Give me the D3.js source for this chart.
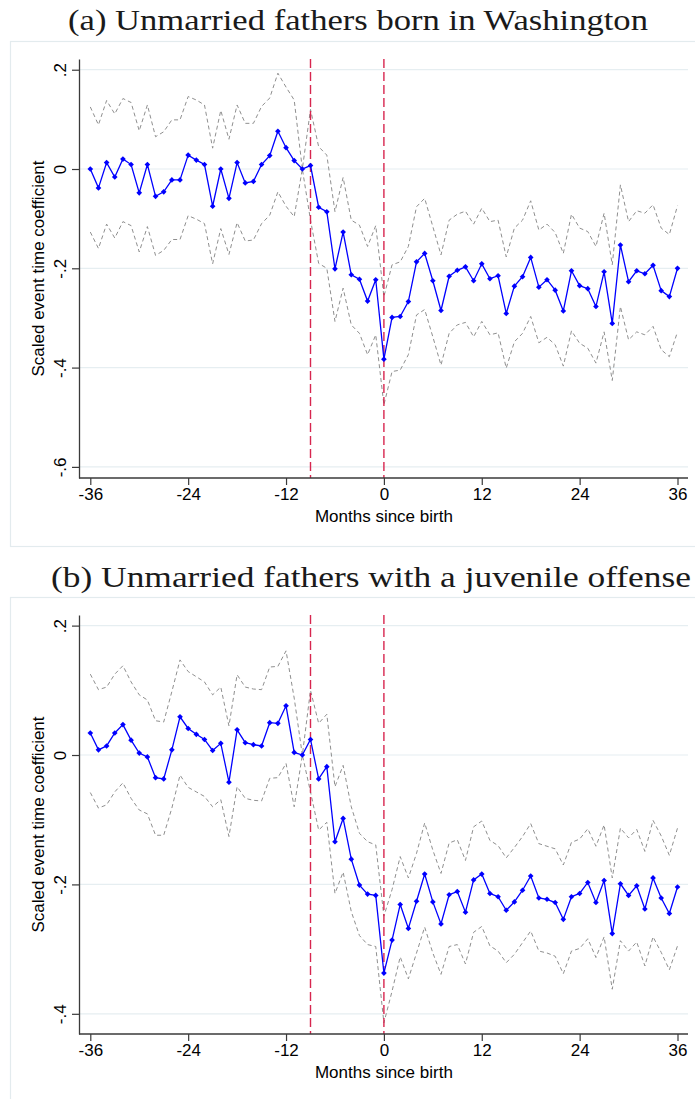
<!DOCTYPE html>
<html>
<head>
<meta charset="utf-8">
<script src="https://cdn.jsdelivr.net/npm/d3@7"></script>
<style>
  html, body { margin: 0; padding: 0; background: #fff; }
  svg { display: block; }
  .tick text { fill: #000; }
</style>
</head>
<body>
<svg id="chart" width="695" height="1099"></svg>
<script>
// Event time in months relative to the birth
const months = d3.range(-36, 37);
const xTicks = [-36, -24, -12, 0, 12, 24, 36];
const xTickLabels = ["-36", "-24", "-12", "0", "12", "24", "36"];
const eventLines = [-9, 0];

// Panel (a): unmarried fathers born in Washington
const titleA = "(a) Unmarried fathers born in Washington";
const yTicksA = [0.2, 0, -0.2, -0.4, -0.6];
const yTickLabelsA = [".2", "0", "-.2", "-.4", "-.6"];
const coefA = [
  0.000, -0.038, 0.013, -0.016, 0.020, 0.009, -0.048, 0.009, -0.055, -0.046, -0.022, -0.022,
  0.028, 0.018, 0.009, -0.075, 0.000, -0.059, 0.013, -0.028, -0.025, 0.009, 0.027, 0.076,
  0.043, 0.017, 0.000, 0.007, -0.077, -0.086, -0.201, -0.127, -0.213, -0.222, -0.266, -0.223,
  -0.383, -0.299, -0.297, -0.267, -0.187, -0.170, -0.225, -0.285, -0.216, -0.204, -0.197, -0.225,
  -0.191, -0.221, -0.215, -0.291, -0.236, -0.217, -0.178, -0.238, -0.223, -0.244, -0.286, -0.205,
  -0.235, -0.241, -0.277, -0.207, -0.311, -0.153, -0.227, -0.205, -0.211, -0.194, -0.245, -0.257,
  -0.200
];
const upperA = [
  0.125, 0.089, 0.138, 0.111, 0.142, 0.134, 0.077, 0.129, 0.065, 0.075, 0.099, 0.099,
  0.146, 0.139, 0.129, 0.042, 0.118, 0.060, 0.129, 0.092, 0.092, 0.126, 0.143, 0.193,
  0.165, 0.139, 0.000, 0.120, 0.045, 0.028, -0.086, -0.017, -0.103, -0.113, -0.156, -0.114,
  -0.257, -0.193, -0.187, -0.156, -0.076, -0.059, -0.116, -0.173, -0.103, -0.091, -0.085, -0.111,
  -0.079, -0.106, -0.103, -0.177, -0.119, -0.103, -0.064, -0.123, -0.111, -0.128, -0.170, -0.091,
  -0.119, -0.126, -0.156, -0.089, -0.193, -0.032, -0.106, -0.084, -0.089, -0.072, -0.119, -0.132,
  -0.074
];
const lowerA = [
  -0.127, -0.160, -0.111, -0.139, -0.106, -0.114, -0.167, -0.116, -0.174, -0.164, -0.142, -0.142,
  -0.094, -0.101, -0.110, -0.191, -0.120, -0.172, -0.108, -0.145, -0.143, -0.110, -0.093, -0.046,
  -0.075, -0.096, 0.000, -0.103, -0.190, -0.200, -0.307, -0.240, -0.314, -0.331, -0.374, -0.334,
  -0.475, -0.408, -0.405, -0.374, -0.294, -0.283, -0.338, -0.395, -0.331, -0.314, -0.309, -0.338,
  -0.307, -0.334, -0.330, -0.401, -0.348, -0.331, -0.297, -0.350, -0.339, -0.354, -0.397, -0.326,
  -0.351, -0.361, -0.391, -0.328, -0.426, -0.277, -0.344, -0.328, -0.334, -0.317, -0.364, -0.378,
  -0.328
];

// Panel (b): unmarried fathers with a juvenile offense
const titleB = "(b) Unmarried fathers with a juvenile offense";
const yTicksB = [0.2, 0, -0.2, -0.4];
const yTickLabelsB = [".2", "0", "-.2", "-.4"];
const coefB = [
  0.034, 0.008, 0.014, 0.034, 0.047, 0.023, 0.003, -0.003, -0.035, -0.037, 0.008, 0.059,
  0.041, 0.032, 0.024, 0.007, 0.018, -0.042, 0.039, 0.019, 0.016, 0.014, 0.050, 0.049,
  0.076, 0.004, 0.000, 0.024, -0.037, -0.018, -0.134, -0.098, -0.161, -0.201, -0.215, -0.217,
  -0.337, -0.286, -0.231, -0.268, -0.226, -0.184, -0.227, -0.261, -0.216, -0.211, -0.243, -0.193,
  -0.184, -0.214, -0.219, -0.240, -0.227, -0.209, -0.187, -0.221, -0.223, -0.228, -0.254, -0.219,
  -0.214, -0.197, -0.228, -0.194, -0.276, -0.199, -0.217, -0.202, -0.238, -0.190, -0.221, -0.245,
  -0.204
];
const upperB = [
  0.125, 0.101, 0.105, 0.125, 0.138, 0.113, 0.093, 0.085, 0.053, 0.051, 0.098, 0.147,
  0.129, 0.121, 0.113, 0.093, 0.105, 0.045, 0.124, 0.105, 0.102, 0.101, 0.136, 0.137,
  0.161, 0.088, 0.000, 0.100, 0.049, 0.063, -0.049, -0.016, -0.080, -0.121, -0.134, -0.139,
  -0.249, -0.208, -0.157, -0.190, -0.152, -0.105, -0.147, -0.183, -0.136, -0.131, -0.163, -0.111,
  -0.102, -0.132, -0.140, -0.159, -0.143, -0.126, -0.106, -0.137, -0.141, -0.145, -0.170, -0.135,
  -0.130, -0.114, -0.141, -0.108, -0.190, -0.113, -0.128, -0.115, -0.149, -0.101, -0.125, -0.155,
  -0.113
];
const lowerB = [
  -0.058, -0.082, -0.077, -0.057, -0.043, -0.067, -0.085, -0.091, -0.124, -0.124, -0.082, -0.031,
  -0.050, -0.057, -0.064, -0.080, -0.069, -0.126, -0.049, -0.067, -0.070, -0.071, -0.036, -0.035,
  -0.013, -0.080, 0.000, -0.057, -0.116, -0.104, -0.214, -0.181, -0.242, -0.279, -0.293, -0.296,
  -0.414, -0.365, -0.312, -0.346, -0.306, -0.266, -0.306, -0.339, -0.296, -0.293, -0.323, -0.274,
  -0.265, -0.295, -0.303, -0.321, -0.308, -0.290, -0.272, -0.303, -0.306, -0.311, -0.338, -0.303,
  -0.299, -0.284, -0.313, -0.281, -0.362, -0.287, -0.303, -0.289, -0.326, -0.281, -0.305, -0.332,
  -0.295
];

const svg = d3.select("#chart");
const sans = "Liberation Sans";
const serif = "Liberation Serif";

function drawPanel(cfg) {
  const g = svg.append("g");

  // outer graph region frame
  g.append("rect")
    .attr("x", 10.5).attr("y", cfg.boxTop + 0.5)
    .attr("width", 700).attr("height", cfg.boxHeight)
    .attr("fill", "none").attr("stroke", "#e3ebee").attr("stroke-width", 1.2);

  // panel title
  g.append("text")
    .attr("x", cfg.titleX).attr("y", cfg.titleY)
    .style("font-family", serif).attr("font-size", 30)
    .attr("textLength", cfg.titleWidth).attr("lengthAdjust", "spacingAndGlyphs")
    .attr("fill", "#1a1a1a")
    .text(cfg.title);

  const x = d3.scaleLinear().domain([-36, 36]).range([90.3, 677.5]);
  const y = d3.scaleLinear().domain(cfg.yDomain).range([cfg.plotBottom, cfg.plotTop]);
  const left = 79, right = 688;

  // horizontal grid lines
  g.append("g").selectAll("line").data(cfg.yTicks).join("line")
    .attr("x1", left).attr("x2", right)
    .attr("y1", d => y(d)).attr("y2", d => y(d))
    .attr("stroke", "#e6eef1").attr("stroke-width", 1.2);

  // confidence bounds
  const line = d3.line().x((d, i) => x(months[i])).y(d => y(d));
  [cfg.upper, cfg.lower].forEach(arr => {
    g.append("path").datum(arr)
      .attr("d", line)
      .attr("fill", "none").attr("stroke", "#8f8f8f")
      .attr("stroke-width", 1).attr("stroke-dasharray", "4,3");
  });

  // reference lines at event times
  g.append("g").selectAll("line").data(eventLines).join("line")
    .attr("x1", d => x(d)).attr("x2", d => x(d))
    .attr("y1", cfg.plotTop).attr("y2", cfg.plotBottom)
    .attr("stroke", "#d7264f").attr("stroke-width", 1.4)
    .attr("stroke-dasharray", "9,4");

  // coefficient line with diamond markers
  g.append("path").datum(cfg.coef)
    .attr("d", line)
    .attr("fill", "none").attr("stroke", "#0000ff").attr("stroke-width", 1.3);
  const diamond = d3.symbol().type(d3.symbolSquare).size(16);
  g.append("g").selectAll("path").data(cfg.coef).join("path")
    .attr("d", diamond)
    .attr("transform", (d, i) => `translate(${x(months[i])},${y(d)}) rotate(45)`)
    .attr("fill", "#0000ff");

  // y axis
  const yAxis = g.append("g")
    .attr("transform", `translate(${left},0)`)
    .call(d3.axisLeft(y).tickValues(cfg.yTicks)
      .tickFormat((d, i) => cfg.yTickLabels[i]).tickSize(7).tickSizeOuter(0));
  yAxis.select(".domain").attr("stroke", "#3a3a3a").attr("stroke-width", 1.3);
  yAxis.selectAll(".tick line").attr("stroke", "#3a3a3a").attr("stroke-width", 1.2);
  yAxis.selectAll(".tick text")
    .style("font-family", sans).attr("font-size", 17)
    .attr("x", 0).attr("dy", null)
    .attr("text-anchor", "middle")
    .attr("dominant-baseline", "central")
    .attr("transform", "translate(-19,0) rotate(-90)");

  // x axis
  const xAxis = g.append("g")
    .attr("transform", `translate(0,${cfg.plotBottom})`)
    .call(d3.axisBottom(x).tickValues(xTicks)
      .tickFormat((d, i) => xTickLabels[i])
      .tickSize(7).tickSizeOuter(0));
  xAxis.select(".domain")
    .attr("d", `M${left},0H${right}`)
    .attr("stroke", "#3a3a3a").attr("stroke-width", 1.3);
  xAxis.selectAll(".tick line").attr("stroke", "#3a3a3a").attr("stroke-width", 1.2);
  xAxis.selectAll(".tick text")
    .style("font-family", sans).attr("font-size", 17)
    .attr("y", 10).attr("dy", "0.71em");

  // axis titles
  g.append("text")
    .attr("x", x(0)).attr("y", cfg.plotBottom + 44)
    .attr("text-anchor", "middle")
    .style("font-family", sans).attr("font-size", 17)
    .text("Months since birth");
  g.append("text")
    .attr("transform", `translate(38,${(cfg.plotTop + cfg.plotBottom) / 2}) rotate(-90)`)
    .attr("text-anchor", "middle").attr("dominant-baseline", "central")
    .style("font-family", sans).attr("font-size", 17)
    .text("Scaled event time coefficient");
}

drawPanel({
  title: titleA, titleX: 68, titleY: 30, titleWidth: 580,
  boxTop: 41, boxHeight: 505,
  plotTop: 59, plotBottom: 478, yDomain: [-0.6224, 0.2216],
  yTicks: yTicksA, yTickLabels: yTickLabelsA,
  coef: coefA, upper: upperA, lower: lowerA
});

drawPanel({
  title: titleB, titleX: 51, titleY: 587, titleWidth: 640,
  boxTop: 597, boxHeight: 520,
  plotTop: 615, plotBottom: 1034, yDomain: [-0.4312, 0.2164],
  yTicks: yTicksB, yTickLabels: yTickLabelsB,
  coef: coefB, upper: upperB, lower: lowerB
});
</script>
</body>
</html>
